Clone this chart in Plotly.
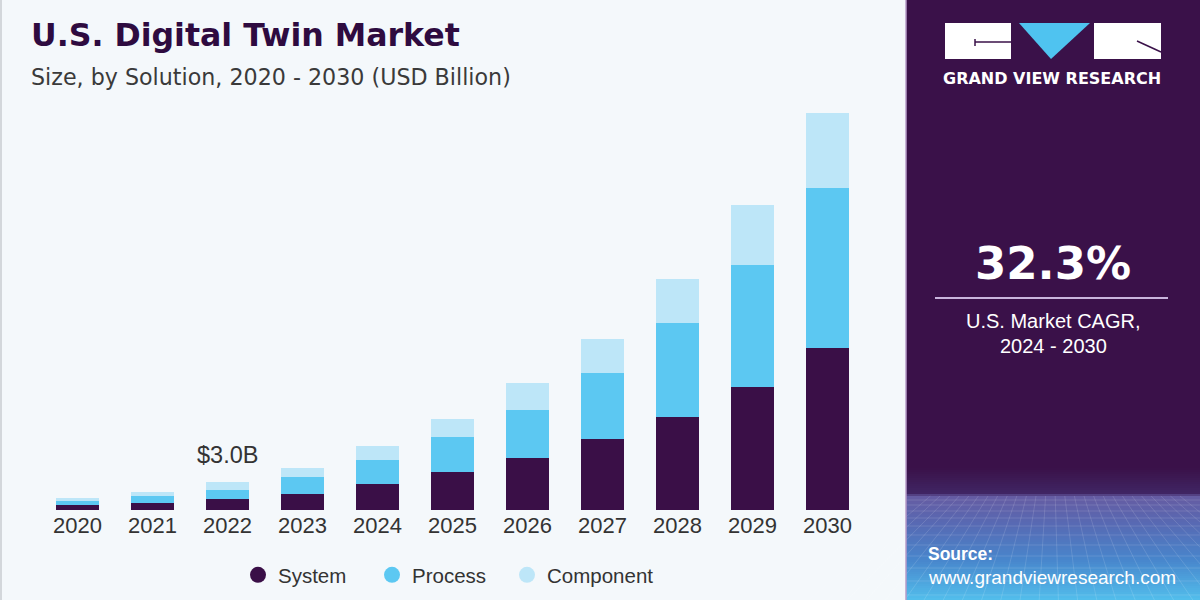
import plotly.graph_objects as go

# ---------------- data (USD Billion) ----------------
years = ["2020", "2021", "2022", "2023", "2024", "2025", "2026", "2027", "2028", "2029", "2030"]
system = [0.54, 0.75, 1.18, 1.71, 2.79, 4.05, 5.57, 7.61, 9.97, 13.18, 17.36]
process = [0.43, 0.75, 0.96, 1.82, 2.57, 3.75, 5.14, 7.07, 10.07, 13.07, 17.25]
component = [0.32, 0.43, 0.86, 0.96, 1.50, 1.93, 2.89, 3.64, 4.72, 6.43, 8.04]
series_names = ["System", "Process", "Component"]
series_colors = ["#3a0f47", "#5cc8f2", "#bde6f8"]
callout_year = "2022"
callout_text = "$3.0B"

# ---------------- layout geometry ----------------
FW, FH = 1200, 600
L, R, T, B = 40, 335, 100, 90
W = FW - L - R
H = FH - T - B
BG = "#f4f8fb"
PANEL = "#3a1149"


def px(x):
    return (x - L) / W


def py(y):
    return (T + H - y) / H


fig = go.Figure()
for name, vals, col in zip(series_names, [system, process, component], series_colors):
    fig.add_trace(go.Bar(x=years, y=vals, name=name, marker=dict(color=col, line=dict(width=0)),
                         showlegend=False))
legend_ids = ["legend", "legend2", "legend3"]
legend_circle_x = [258, 392, 527]
for name, col, lid in zip(series_names, series_colors, legend_ids):
    fig.add_trace(go.Scatter(x=[None], y=[None], mode="markers", name=name, legend=lid,
                             marker=dict(color=col, size=16, symbol="circle"), showlegend=True))

shapes = []
# left thin border
shapes.append(dict(type="rect", xref="paper", yref="paper", x0=px(0), x1=px(2), y0=py(600), y1=py(0),
                   fillcolor="#d3d7db", line=dict(width=0), layer="below"))
# right panel
shapes.append(dict(type="rect", xref="paper", yref="paper", x0=px(906), x1=px(1200), y0=py(600), y1=py(0),
                   fillcolor=PANEL, line=dict(width=0), layer="below"))

# gradient at bottom of the panel
stops = [(468, (58, 17, 73)), (494, (64, 38, 100)), (496, (102, 92, 162)), (522, (88, 104, 178)),
         (560, (72, 134, 204)), (600, (82, 190, 236))]


def grad(y):
    for (y0, c0), (y1, c1) in zip(stops[:-1], stops[1:]):
        if y0 <= y <= y1:
            t = (y - y0) / (y1 - y0) if y1 > y0 else 0
            return tuple(int(round(a + (b - a) * t)) for a, b in zip(c0, c1))
    return stops[-1][1]


y = 468
while y < 600:
    c = grad(y + 1)
    shapes.append(dict(type="rect", xref="paper", yref="paper", x0=px(906), x1=px(1200),
                       y0=py(min(y + 2, 600)), y1=py(y), fillcolor="rgb(%d,%d,%d)" % c,
                       line=dict(width=0), layer="below"))
    y += 2

# faint grid texture in the bottom area
for gx in range(900, 1215, 12):
    shapes.append(dict(type="line", xref="paper", yref="paper", x0=px(1052 + (gx - 1052) * 0.8),
                       x1=px(1052 + (gx - 1052) * 1.6),
                       y0=py(496), y1=py(600), line=dict(color="rgba(255,255,255,0.13)", width=1),
                       layer="below"))
for gy in [500, 505, 511, 518, 526, 535, 545, 556, 568, 581, 595]:
    shapes.append(dict(type="line", xref="paper", yref="paper", x0=px(907), x1=px(1200),
                       y0=py(gy), y1=py(gy), line=dict(color="rgba(255,255,255,0.13)", width=1),
                       layer="below"))
shapes.append(dict(type="line", xref="paper", yref="paper", x0=px(906), x1=px(906), y0=py(600), y1=py(0),
                   line=dict(color="#b79bc9", width=1.5), layer="below"))

# logo: white boxes and blue triangle
shapes.append(dict(type="rect", xref="paper", yref="paper", x0=px(945), x1=px(1011), y0=py(59), y1=py(23),
                   fillcolor="white", line=dict(width=0)))
shapes.append(dict(type="rect", xref="paper", yref="paper", x0=px(1094), x1=px(1161), y0=py(59), y1=py(23),
                   fillcolor="white", line=dict(width=0)))
shapes.append(dict(type="path", xref="paper", yref="paper",
                   path="M %f,%f L %f,%f L %f,%f Z" % (px(1019), py(23), px(1090), py(23), px(1051), py(59)),
                   fillcolor="#4fc3f0", line=dict(width=0)))
shapes.append(dict(type="line", xref="paper", yref="paper", x0=px(975), x1=px(1011), y0=py(42), y1=py(42),
                   line=dict(color=PANEL, width=1.5)))
shapes.append(dict(type="line", xref="paper", yref="paper", x0=px(975), x1=px(975), y0=py(39), y1=py(46),
                   line=dict(color=PANEL, width=1.5)))
shapes.append(dict(type="line", xref="paper", yref="paper", x0=px(1137), x1=px(1161), y0=py(41), y1=py(52),
                   line=dict(color=PANEL, width=1.5)))
# separator line under CAGR
shapes.append(dict(type="line", xref="paper", yref="paper", x0=px(935), x1=px(1168), y0=py(298), y1=py(298),
                   line=dict(color="#c9b5dd", width=2)))

annotations = []


def text(x, y, s, size, color, family="Liberation Sans", xanchor="center", bold=False):
    annotations.append(dict(xref="paper", yref="paper", x=px(x), y=py(y), text=("<b>%s</b>" % s) if bold else s,
                            showarrow=False, xanchor=xanchor, yanchor="middle",
                            font=dict(size=size, color=color, family=family)))


text(29, 35, "U.S. Digital Twin Market", 31.6, "#2e0b40", family="DejaVu Sans", xanchor="left", bold=True)
text(29, 77, "Size, by Solution, 2020 - 2030 (USD Billion)", 22.2, "#3a3a3a", family="DejaVu Sans", xanchor="left")
text(1052, 79, "GRAND VIEW RESEARCH", 16, "white", family="DejaVu Sans", bold=True)
text(1053, 263, "32.3%", 45, "white", family="DejaVu Sans", bold=True)
text(1053, 321, "U.S. Market CAGR,", 20, "white")
text(1053, 346, "2024 - 2030", 20, "white")
text(926, 554, "Source:", 17.5, "white", xanchor="left", bold=True)
text(926, 577, "www.grandviewresearch.com", 19, "white", xanchor="left")

idx = years.index(callout_year)
total = system[idx] + process[idx] + component[idx]
annotations.append(dict(x=idx, y=total, xref="x", yref="y", text=callout_text, showarrow=False,
                        yanchor="bottom", yshift=12, font=dict(size=23.5, color="#333333", family="Liberation Sans")))

legend_style = dict(orientation="h", xref="paper", yref="paper", xanchor="left", yanchor="middle",
                    font=dict(size=20.5, color="#333333", family="Liberation Sans"),
                    bgcolor="rgba(0,0,0,0)", borderwidth=0, itemclick=False, itemdoubleclick=False)
legends = {}
for lid, cx in zip(legend_ids, legend_circle_x):
    legends[lid] = dict(legend_style, x=px(cx - 20), y=py(575))

fig.update_layout(
    width=FW, height=FH,
    margin=dict(l=L, r=R, t=T, b=B, pad=0, autoexpand=False),
    paper_bgcolor=BG, plot_bgcolor=BG,
    barmode="stack", bargap=0.427,
    showlegend=True,
    xaxis=dict(type="category", categoryorder="array", categoryarray=years, range=[-0.5, len(years) - 0.5],
               showgrid=False, zeroline=False, showline=False, ticks="", automargin=False,
               tickfont=dict(size=22, color="#333333", family="Liberation Sans")),
    yaxis=dict(range=[0, 44], visible=False, showgrid=False, zeroline=False, automargin=False),
    shapes=shapes, annotations=annotations,
    **legends,
)

fig.write_html("out.html")
